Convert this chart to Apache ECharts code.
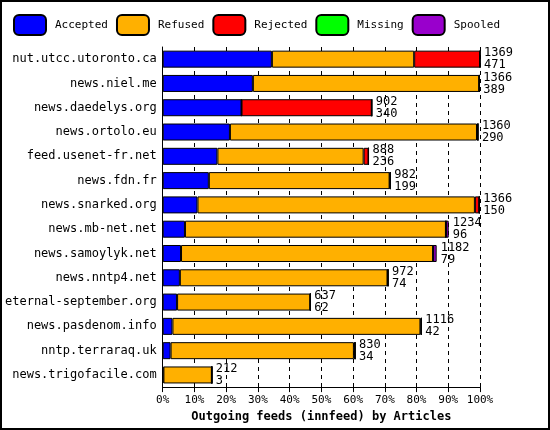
<!DOCTYPE html>
<html><head><meta charset="utf-8">
<script src="https://cdn.jsdelivr.net/npm/echarts@6/dist/echarts.min.js"></script>
<style>html,body{margin:0;padding:0;background:#fff}#c{width:550px;height:430px;box-sizing:border-box;border:2px solid #000}</style>
</head><body><div id="c"></div>
<script>
const categories = ["nut.utcc.utoronto.ca","news.niel.me","news.daedelys.org","news.ortolo.eu","feed.usenet-fr.net","news.fdn.fr","news.snarked.org","news.mb-net.net","news.samoylyk.net","news.nntp4.net","eternal-september.org","news.pasdenom.info","nntp.terraraq.uk","news.trigofacile.com"];
const totals   = [1369,1366,902,1360,888,982,1366,1234,1182,972,637,1116,830,212];
const accepted = [471,389,340,290,236,199,150,96,79,74,62,42,34,3];
const refused  = [614,977,0,1066,631,780,1197,1126,1088,896,575,1070,791,209];
const rejected = [284,0,562,4,21,3,19,0,0,2,0,4,5,0];
const missing  = [0,0,0,0,0,0,0,0,0,0,0,0,0,0];
const spooled  = [0,0,0,0,0,0,0,12,15,0,0,0,0,0];
const xTicks = ["0%","10%","20%","30%","40%","50%","60%","70%","80%","90%","100%"];
const maxTotal = 1369;
const font = "DejaVu Sans Mono";
const chart = echarts.init(document.getElementById('c'));
const mk = (name, data, color) => ({name, type:'bar', stack:'s', data, barWidth:17,
  itemStyle:{color, borderColor:'#000', borderWidth:1}});
chart.setOption({
  animation:false,
  textStyle:{fontFamily:font},
  legend:{top:7, left:6, itemWidth:32, itemHeight:20, itemGap:8,
    data:['Accepted','Refused','Rejected','Missing','Spooled'],
    textStyle:{fontFamily:font, fontSize:11, color:'#000', width:64, padding:[0,0,0,4]}},
  grid:{left:128, right:68, top:45, bottom:38},
  xAxis:{type:'value', min:0, max:maxTotal, interval:maxTotal/10,
    axisLabel:{fontFamily:font, fontSize:11, color:'#000', formatter:(v)=>xTicks[Math.round(v/maxTotal*10)]},
    axisLine:{show:true, lineStyle:{color:'#000'}}, axisTick:{show:true, lineStyle:{color:'#000'}},
    splitLine:{show:true, lineStyle:{color:'#000', type:[4,4]}},
    name:'Outgoing feeds (innfeed) by Articles', nameLocation:'middle', nameGap:21,
    nameTextStyle:{fontFamily:font, fontSize:12, fontWeight:'bold', color:'#000'}},
  yAxis:{type:'category', data:categories, inverse:true,
    axisLabel:{fontFamily:font, fontSize:12, color:'#000', margin:6},
    axisLine:{lineStyle:{color:'#000'}}, axisTick:{show:false}},
  series:[
    mk('Accepted',accepted,'#0000ff'),
    mk('Refused',refused,'#ffb000'),
    mk('Rejected',rejected,'#ff0000'),
    mk('Missing',missing,'#00ff00'),
    mk('Spooled',spooled,'#9900cc'),
    {name:'totals', type:'bar', data:totals, barWidth:17, barGap:'-100%', z:1,
     itemStyle:{color:'transparent'}, silent:true,
     label:{show:true, position:'right', distance:4, fontFamily:font, fontSize:12, color:'#000', lineHeight:12,
       formatter:(p)=>totals[p.dataIndex]+'\n'+accepted[p.dataIndex]}}
  ]
});
</script></body></html>
